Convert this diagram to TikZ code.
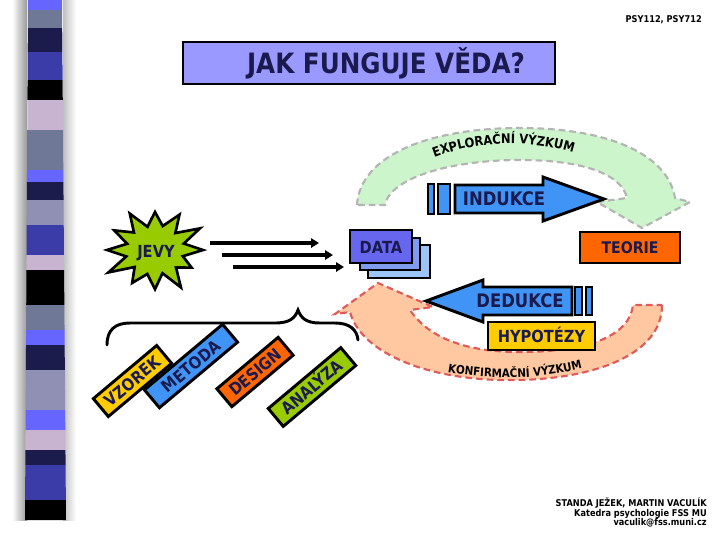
\documentclass[tikz,border=0pt]{standalone}
\usepackage{fontspec}
\setmainfont{DejaVu Sans}
\newfontfamily\lbl{DejaVu Sans}[FakeStretch=0.88]
\usetikzlibrary{decorations.text,arrows.meta}
\definecolor{navy}{HTML}{1A1A4E}
\definecolor{tfill}{HTML}{9999FF}
\definecolor{ablue}{HTML}{3F94F5}
\definecolor{yel}{HTML}{FFCC00}
\definecolor{orng}{HTML}{FF6600}
\definecolor{grn}{HTML}{99CC00}
\definecolor{dfront}{HTML}{6666EE}
\definecolor{dmid}{HTML}{7F9CEE}
\definecolor{dback}{HTML}{9CC4F4}
\definecolor{mint}{HTML}{CCF5CC}
\definecolor{greyb}{HTML}{B4B4B4}
\definecolor{peach}{HTML}{FFC8A0}
\definecolor{redb}{HTML}{E05A5A}
\definecolor{sA}{HTML}{6666FF}
\definecolor{sB}{HTML}{707898}
\definecolor{sC}{HTML}{1C1C4C}
\definecolor{sD}{HTML}{3C3CA8}
\definecolor{sE}{HTML}{000000}
\definecolor{sF}{HTML}{C8B4D0}
\definecolor{sG}{HTML}{9090B4}
\begin{document}
\begin{tikzpicture}[x=0.75pt,y=-0.75pt,
  box/.style={draw=black, line width=2.2pt, inner sep=0pt},
  arrowst/.style={draw=black, line width=2.2pt, fill=ablue, line join=miter},
  lab/.style={text=navy, font=\lbl\bfseries\fontsize{#1}{#1}\selectfont},
  tag/.style={box, rotate=40, minimum height=17.5pt, text height=9.3pt, text depth=0pt,
              text=navy, font=\lbl\bfseries\fontsize{12.5}{12.5}\selectfont},
  conn/.style={line width=2.3pt, -{Triangle[length=6pt,width=7pt]}},
  small/.style={text=black, font=\lbl\bfseries\fontsize{7}{7}\selectfont, inner sep=0pt, anchor=base east}]
\useasboundingbox (0,0) rectangle (720,540);
% left stripe bar with shadow
\shade[left color=white, right color=black!40] (12,0) rectangle (27,520);
\shade[left color=black!25, right color=white] (63,0) rectangle (76,520);
\foreach \ya/\yb/\c in {0/10/sA,10/28/sB,28/52/sC,52/80/sD,80/100/sE,100/130/sF,130/170/sB,170/182/sA,182/200/sC,200/225/sG,225/255/sD,255/270/sF,270/305/sE,305/330/sB,330/345/sA,345/370/sC,370/410/sG,410/430/sA,430/450/sF,450/465/sC,465/500/sD,500/520/sE}{
  \fill[\c] ({28-3*\ya/520},\ya) -- ({62+4*\ya/520},\ya) -- ({62+4*\yb/520},\yb) -- ({28-3*\yb/520},\yb) -- cycle;
}
% top-right course code
\node (psy) [small] at (702,22) {PSY112, PSY712};
% title
\node (tbox) [box, fill=tfill, minimum width=279pt, minimum height=31.5pt] at (369,63) {};
\node (title) [text height=15.3pt, text depth=0pt, inner sep=0pt, lab=21] at (386,63) {JAK FUNGUJE VĚDA?};
% exploration band
\draw[greyb, fill=mint, line width=1.6pt, dash pattern=on 5pt off 3pt]
  (357,205) .. controls (360,155) and (430,128) .. (520,128) .. controls (610,128) and (668,155) .. (675,198)
  -- (690,202) -- (642,228) -- (597,202) -- (627,198)
  .. controls (622,175) and (585,160) .. (520,160) .. controls (450,160) and (390,178) .. (385,205) -- cycle;
\path[decorate, decoration={text along path, text align=center,
  text={|\lbl\bfseries\fontsize{9.8}{9.8}\selectfont|EXPLORAČNÍ VÝZKUM}}]
  (428,160) .. controls (475,140) and (530,138) .. (580,155);
% confirmation band
\draw[redb, fill=peach, line width=1.6pt, dash pattern=on 5pt off 3pt]
  (662,305) .. controls (662,360) and (580,382) .. (500,380) .. controls (420,378) and (360,350) .. (350,312)
  -- (335,314) -- (378,283) -- (433,307) -- (410,310)
  .. controls (430,340) and (470,352) .. (520,352) .. controls (590,352) and (630,335) .. (633,305) -- cycle;
\path[decorate, decoration={text along path, text align=center,
  text={|\lbl\bfseries\fontsize{8.8}{8.8}\selectfont|KONFIRMAČNÍ VÝZKUM}}]
  (440,371) .. controls (485,380) and (540,381) .. (590,366);
% INDUKCE arrow
\draw[arrowst] (428,184) rectangle (434,214);
\draw[arrowst] (438,184) rectangle (450,214);
\draw[arrowst] (455,185) -- (543,185) -- (543,177) -- (604,199) -- (543,221) -- (543,213) -- (455,213) -- cycle;
\node (ind) [lab=14] at (504,199) {INDUKCE};
% DEDUKCE arrow
\draw[arrowst] (426,301) -- (483,280) -- (483,287) -- (572,287) -- (572,315) -- (483,315) -- (483,322) -- cycle;
\draw[arrowst] (575,287) rectangle (582,315);
\draw[arrowst] (586,287) rectangle (592,315);
\node (ded) [lab=14] at (520,301) {DEDUKCE};
% HYPOTEZY
\node (hyp) [box, fill=yel, minimum width=80.25pt, minimum height=21pt, text height=9pt, text depth=0pt, lab=12.5]
  at (541.5,336) {HYPOTÉZY};
% TEORIE
\node (teorie) [box, fill=orng, minimum width=75pt, minimum height=23.25pt, lab=12] at (630,247.5) {TEORIE};
% DATA cards
\draw[box, fill=dback] (368,245) rectangle (430,278);
\node (d3) [lab=12.5] at (399,261.5) {DATA};
\draw[box, fill=dmid] (360,238) rectangle (420,270);
\node (d2) [lab=12.5] at (390,254.5) {DATA};
\draw[box, fill=dfront] (350,230) rectangle (412,263);
\node (data) [lab=12.5] at (381,247) {DATA};
% JEVY starburst
\draw[line width=2pt, fill=grn, line join=miter]
  (203,250) \foreach \a/\r in {15/0.6,30/0.88,45/0.62,60/1.08,75/0.6,90/0.98,105/0.62,120/0.95,135/0.6,150/1.12,165/0.62,180/1.0,195/0.6,210/0.98,225/0.62,240/1.05,255/0.6,270/0.95,285/0.62,300/1.02,315/0.6,330/1.08,345/0.62}
  { -- ([shift={(\a:{48*\r} and {40*\r})}]155,250) } -- cycle;
\node (jevy) [lab=12.5] at (156,253) {JEVY};
% arrows phenomena -> data
\coordinate (s1) at (210,243); \coordinate (e1) at (319,243);
\coordinate (s2) at (222,255); \coordinate (e2) at (333,255);
\coordinate (s3) at (233,267); \coordinate (e3) at (344,267);
\draw[conn] (s1) -- (e1);
\draw[conn] (s2) -- (e2);
\draw[conn] (s3) -- (e3);
% brace
\draw[line width=2.2pt, line cap=round]
  (107,345) .. controls (107,330) and (115,323) .. (130,323) -- (275,323)
  .. controls (290,323) and (295,318) .. (298,310) .. controls (301,318) and (306,323) .. (320,323)
  -- (335,323) .. controls (350,323) and (357,330) .. (358,340);
% research tags
\node (vzorek) [tag, fill=yel, minimum width=62pt] at (132.5,381) {VZOREK};
\node (metoda) [tag, fill=ablue, minimum width=76.5pt] at (191,366) {METODA};
\node (design) [tag, fill=orng, minimum width=60pt] at (255,372) {DESIGN};
\node (analyza) [tag, fill=grn, minimum width=71pt] at (312,387) {ANALÝZA};
% credits
\node (c1) [small] at (707,506) {STANDA JEŽEK, MARTIN VACULÍK};
\node (c2) [small] at (707,516) {Katedra psychologie FSS MU};
\node (c3) [small] at (707,525) {vaculik@fss.muni.cz};
\end{tikzpicture}
\end{document}
